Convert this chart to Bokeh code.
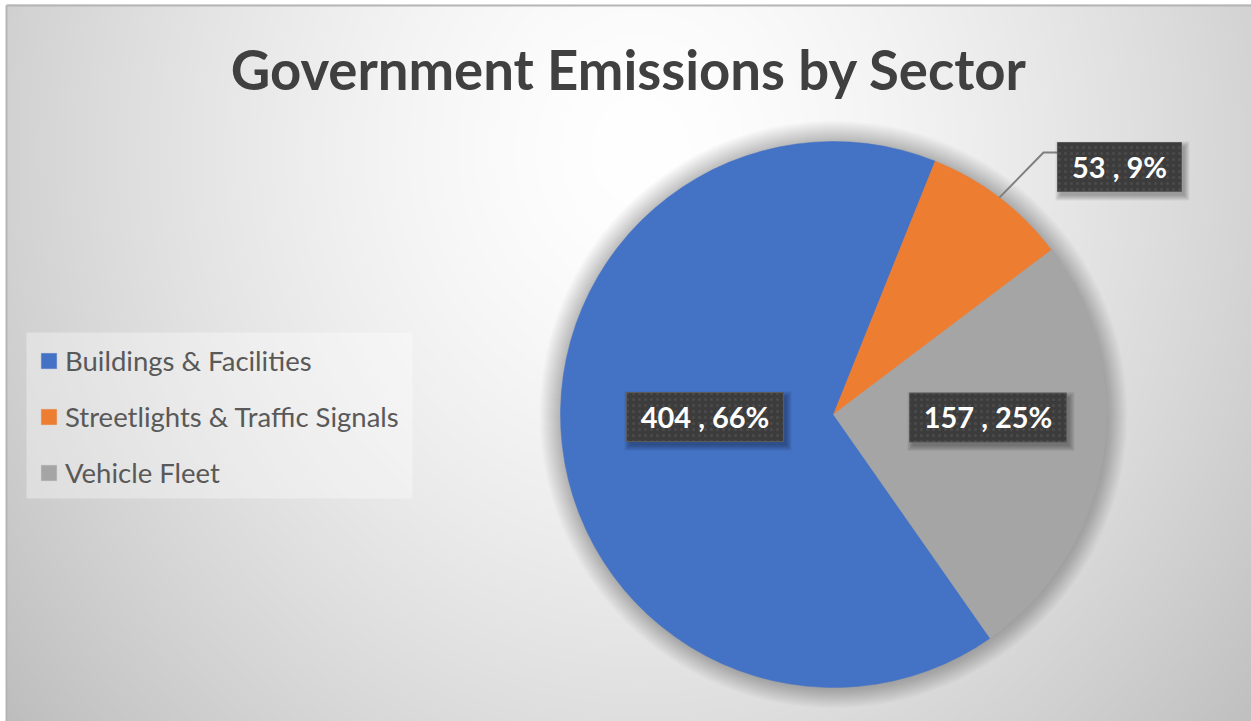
import numpy as np
from bokeh.plotting import figure
from bokeh.models import Range1d, Legend, LegendItem, ColumnDataSource
from bokeh.core.properties import value
from bokeh.embed import file_html
from bokeh.resources import INLINE

# ---------------- data ----------------
sectors = ["Buildings & Facilities", "Streetlights & Traffic Signals", "Vehicle Fleet"]
emissions = [404, 53, 157]
percent_labels = ["66%", "9%", "25%"]
colors = ["#4472C4", "#ED7D31", "#A5A5A5"]
title_text = "Government Emissions by Sector"

# ---------------- layout ----------------
W, H = 1251, 721
CX, CY, R = 833, H - 414, 273
FIRST_SLICE_DEG = 145.0          # first slice starts here, clockwise from 12 o'clock
LABEL_CENTERS_PX = [(704.5, 416.5), (1119.0, 166.5), (987.5, 417.0)]
LABEL_SIZES = [(157, 49), (124, 49), (157, 49)]
LEADER_ELBOW_PX = (1043, 152)
LEGEND_BOX_PX = (26, 332, 412, 498)   # left, top, right, bottom
FONT = "Lato"
TITLE_SIZE = 54.5
LABEL_SIZE = 29

p = figure(width=W, height=H, x_range=Range1d(0, W), y_range=Range1d(0, H),
           output_backend="svg", toolbar_location=None,
           x_axis_type=None, y_axis_type=None, min_border=0,
           outline_line_color=None, background_fill_color="white",
           border_fill_color="white")
p.grid.visible = False

# ---------------- background gradient ----------------
nx, ny = (W - 6) // 2, (H - 4) // 2
xs = np.linspace(6, W, nx)
ys_px = np.linspace(H, 4, ny)          # row 0 at bottom
Xg, Yg = np.meshgrid(xs, ys_px)
d = np.sqrt(((Xg - 640) / 800.0) ** 2 + ((Yg - 150) / 900.0) ** 2)
v = np.clip(255 - 64 * d ** 1.5, 0, 255).astype(np.uint8)
img = np.empty((ny, nx), dtype=np.uint32)
view = img.view(dtype=np.uint8).reshape((ny, nx, 4))
view[..., 0] = v
view[..., 1] = v
view[..., 2] = v
view[..., 3] = 255
p.image_rgba(image=[img], x=6, y=0, dw=W - 6, dh=H - 4)
p.segment(x0=[6, 6], y0=[0, H - 5], x1=[6, W], y1=[H - 5, H - 5],
          line_color="#b5b5b5", line_width=2)

# ---------------- pie ----------------
vals = np.array(emissions, dtype=float)
frac = vals / vals.sum()
cum = np.concatenate([[0.0], np.cumsum(frac)])
start_cw = FIRST_SLICE_DEG + 360 * cum[:-1]
end_cw = FIRST_SLICE_DEG + 360 * cum[1:]
mid_cw = (start_cw + end_cw) / 2

# soft shadow
for k in range(1, 22):
    p.circle(x=CX, y=CY, radius=R + k, fill_color="black", fill_alpha=0.011,
             line_color=None)

src = ColumnDataSource(dict(
    start=np.radians(90 - start_cw), end=np.radians(90 - end_cw),
    color=colors, sector=sectors))
wr = p.wedge(x=CX, y=CY, radius=R, start_angle="start", end_angle="end",
             direction="clock", fill_color="color", line_color="color",
             line_width=0.5, source=src)

# leader line for the small slice
i_small = 1
sx = CX + R * np.sin(np.radians(mid_cw[i_small]))
sy = CY + R * np.cos(np.radians(mid_cw[i_small]))
lx, ly = LABEL_CENTERS_PX[i_small]
lw, lh = LABEL_SIZES[i_small]
p.line(x=[sx, LEADER_ELBOW_PX[0], lx - lw / 2],
       y=[sy, H - LEADER_ELBOW_PX[1], H - LEADER_ELBOW_PX[1]],
       line_color="#7f7f7f", line_width=2)

# ---------------- data labels ----------------
label_texts = [f"{e} , {pc}" for e, pc in zip(emissions, percent_labels)]
bx = [c[0] for c in LABEL_CENTERS_PX]
by = [H - c[1] for c in LABEL_CENTERS_PX]
bw = [s[0] for s in LABEL_SIZES]
bh = [s[1] for s in LABEL_SIZES]
for k in range(6):
    p.rect(x=[x + 3 for x in bx], y=[y - 4 for y in by],
           width=[w + 2 * k for w in bw], height=[h + 2 * k for h in bh],
           fill_color="black", fill_alpha=0.055, line_color=None)
p.rect(x=bx, y=by, width=bw, height=bh, fill_color="#3c3c3c",
       line_color="#5a5a5a", line_width=1,
       hatch_pattern="dot", hatch_color="#686868", hatch_scale=6, hatch_alpha=0.35)
p.text(x=bx, y=[y + 1 for y in by], text=label_texts,
       text_font=value(FONT), text_font_style="bold",
       text_font_size=f"{LABEL_SIZE}px",
       text_color="white", text_align="center", text_baseline="alphabetic")

# ---------------- title ----------------
p.text(x=[(6 + W) / 2], y=[H - 68], text=[title_text],
       text_font=value(FONT), text_font_style="bold",
       text_font_size=f"{TITLE_SIZE}px",
       text_color="#404040", text_align="center", text_baseline="alphabetic")

# ---------------- legend ----------------
l, t, r, b = LEGEND_BOX_PX
p.quad(left=l, right=r, top=H - t, bottom=H - b, fill_color="white",
       fill_alpha=0.35, line_color=None)
legend = Legend(items=[LegendItem(label=s, renderers=[wr], index=i)
                       for i, s in enumerate(sectors)],
                location=(39, H - 489))
legend.label_text_font = FONT
legend.label_text_font_size = "27.5px"
legend.label_text_color = "#595959"
legend.glyph_width = 19
legend.glyph_height = 19
legend.label_standoff = 7
legend.label_height = 28
legend.padding = 14
legend.spacing = 23
legend.margin = 0
legend.background_fill_alpha = 0
legend.border_line_color = None
p.add_layout(legend)

open("out.html", "w").write(file_html(p, INLINE))
